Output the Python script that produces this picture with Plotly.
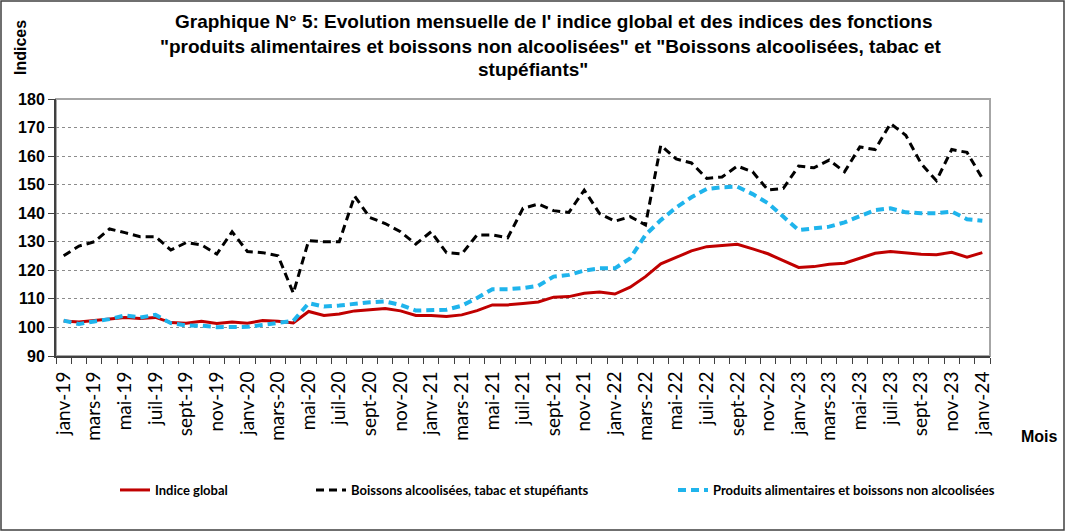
import plotly.graph_objects as go

months = ["janv", "févr", "mars", "avr", "mai", "juin", "juil", "août", "sept", "oct", "nov", "déc"]
years = ["19", "20", "21", "22", "23", "24"]
categories = [f"{m}-{y}" for y in years for m in months][:61]

indice_global = [102.3, 101.9, 102.4, 102.9, 103.5, 103.1, 103.5, 101.7, 101.5, 102.2,
                 101.4, 101.9, 101.5, 102.4, 102.2, 101.6, 105.6, 104.2, 104.7, 105.8,
                 106.2, 106.6, 105.8, 104.2, 104.2, 103.8, 104.4, 105.9, 107.9, 107.9,
                 108.4, 108.9, 110.6, 110.8, 112.0, 112.4, 111.7, 114.1, 117.8, 122.3,
                 124.5, 126.8, 128.3, 128.7, 129.1, 127.5, 125.8, 123.4, 121.0, 121.3,
                 122.1, 122.5, 124.2, 126.0, 126.6, 126.0, 125.6, 125.5, 126.3, 124.6,
                 126.2]

boissons_alcool = [125.1, 128.5, 130.0, 134.5, 133.2, 131.8, 131.8, 127.1, 129.7, 128.9,
                   125.7, 133.5, 126.6, 126.2, 125.1, 112.0, 130.4, 130.0, 130.0, 146.0,
                   138.5, 136.4, 133.5, 129.2, 133.5, 126.2, 125.7, 132.4, 132.4, 131.4,
                   141.7, 143.2, 140.9, 140.3, 148.1, 139.9, 137.2, 138.8, 135.9, 163.8,
                   159.0, 157.6, 152.2, 152.7, 156.5, 154.5, 148.1, 148.7, 156.5, 155.9,
                   158.6, 154.5, 163.2, 162.3, 171.4, 167.3, 157.4, 151.4, 162.3, 161.3,
                   152.2]

produits_alim = [102.4, 101.2, 102.1, 102.9, 104.2, 103.5, 104.4, 101.5, 100.7, 100.6,
                 100.1, 100.3, 100.2, 100.9, 101.5, 102.3, 108.5, 107.3, 107.7, 108.4,
                 108.8, 109.1, 107.9, 105.9, 105.9, 106.2, 107.6, 110.3, 113.4, 113.4,
                 113.8, 114.6, 117.8, 118.4, 119.9, 120.7, 120.7, 124.2, 132.4, 137.6,
                 142.0, 145.6, 148.5, 149.1, 149.3, 146.7, 143.5, 139.0, 134.1, 134.7,
                 135.3, 136.8, 139.0, 141.1, 141.7, 140.3, 140.0, 140.0, 140.6, 137.9,
                 137.4]

series_names = ["Indice global", "Boissons alcoolisées, tabac et stupéfiants",
                "Produits alimentaires et boissons non alcoolisées"]

title_lines = [
    "Graphique N° 5: Evolution mensuelle de l' indice global et des indices des fonctions",
    "\"produits alimentaires et boissons non alcoolisées\" et \"Boissons alcoolisées, tabac et",
    "stupéfiants\"",
]

W, H = 1066, 532
L, R, T, B = 56, 990, 99, 356

def px_x(p):
    return (p - L) / (R - L)

def px_y(p):
    return (B - p) / (B - T)

x = list(range(len(categories)))

fig = go.Figure()
fig.add_trace(go.Scatter(x=x, y=indice_global, mode="lines", name=series_names[0],
                         line=dict(color="#c00000", width=3), legend="legend"))
fig.add_trace(go.Scatter(x=x, y=boissons_alcool, mode="lines", name=series_names[1],
                         line=dict(color="#000000", width=3, dash="8px,5px"), legend="legend2"))
fig.add_trace(go.Scatter(x=x, y=produits_alim, mode="lines", name=series_names[2],
                         line=dict(color="#1fb4ec", width=4, dash="8px,5px"), legend="legend3"))

legend_font = dict(family="Lato, sans-serif", size=13, color="#000000", weight="bold")
def leg(xp):
    return dict(x=px_x(xp), xanchor="left", y=px_y(490), yanchor="middle",
                orientation="h", font=legend_font, bgcolor="rgba(0,0,0,0)",
                itemwidth=30, tracegroupgap=0)

tickvals = [i for i in x if i % 2 == 0]
ticktext = [categories[i] for i in tickvals]

annotations = []
for i, (line, cx) in enumerate(zip(title_lines, [553, 551, 533])):
    annotations.append(dict(text=f"<b>{line}</b>", x=px_x(cx), y=px_y(22 + 24 * i),
                            xref="paper", yref="paper", xanchor="center", yanchor="middle",
                            showarrow=False,
                            font=dict(family="Liberation Sans, Arial, sans-serif", size=19, color="#000000")))
annotations.append(dict(text="<b>Indices</b>", x=px_x(20), y=px_y(48), xref="paper", yref="paper",
                        textangle=-90, showarrow=False, xanchor="center", yanchor="middle",
                        font=dict(family="Liberation Sans, Arial, sans-serif", size=16, color="#000000")))
annotations.append(dict(text="<b>Mois</b>", x=px_x(1039), y=px_y(436), xref="paper", yref="paper",
                        showarrow=False, xanchor="center", yanchor="middle",
                        font=dict(family="Liberation Sans, Arial, sans-serif", size=16, color="#000000")))

fig.update_layout(
    width=W, height=H,
    margin=dict(l=L, r=W - R, t=T, b=H - B, autoexpand=False),
    paper_bgcolor="white", plot_bgcolor="white",
    showlegend=True,
    legend=leg(115), legend2=leg(311), legend3=leg(673),
    annotations=annotations,
    shapes=[
        dict(type="rect", xref="paper", yref="paper", x0=0, x1=1, y0=0, y1=1,
             line=dict(color="#a6a6a6", width=2), layer="below"),
        dict(type="rect", xref="paper", yref="paper", x0=px_x(1), x1=px_x(1064),
             y0=px_y(530), y1=px_y(1), line=dict(color="#404040", width=1.5), layer="below"),
    ],
    xaxis=dict(
        range=[-0.5, len(x) - 0.5], tickmode="array", tickvals=tickvals, ticktext=ticktext,
        tickangle=-90, ticks="", showgrid=False, zeroline=False,
        showline=True, linecolor="#404040", linewidth=2,
        tickfont=dict(family="Lato, sans-serif", size=19, color="#000000"),
        ticklabelstandoff=6,
        minor=dict(tickmode="linear", tick0=-0.5, dtick=1, ticks="outside", ticklen=6,
                   tickcolor="#404040", tickwidth=1, showgrid=False),
    ),
    yaxis=dict(
        range=[90, 180], dtick=10, tick0=90, ticks="outside", ticklen=6, tickcolor="#404040",
        showline=True, linecolor="#404040", linewidth=2, zeroline=False,
        showgrid=True, gridcolor="#8c8c8c", griddash="dot", gridwidth=1,
        tickfont=dict(family="Liberation Sans, Arial, sans-serif", size=16, color="#000000", weight="bold"),
    ),
)

fig.write_html("out.html", config={"displayModeBar": False},
               post_script="document.body.style.margin='0';document.body.style.overflow='hidden';")
